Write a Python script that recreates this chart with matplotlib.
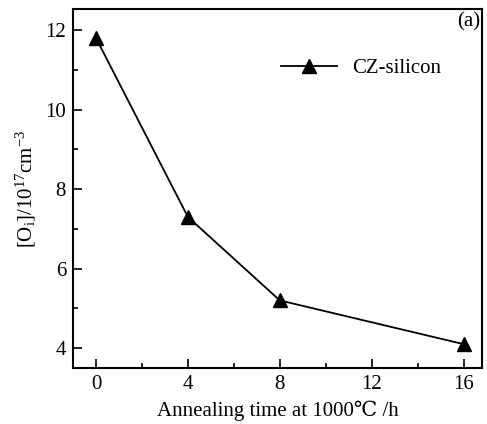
import matplotlib
matplotlib.use("Agg")
import matplotlib.pyplot as plt
from matplotlib.ticker import MultipleLocator

plt.rcParams['font.family'] = ['Liberation Serif', 'DejaVu Serif']
plt.rcParams['mathtext.fontset'] = 'custom'
plt.rcParams['mathtext.rm'] = 'Liberation Serif'
plt.rcParams['mathtext.it'] = 'Liberation Serif'

time_h = [0, 4, 8, 16]
oi_conc = [11.8, 7.3, 5.2, 4.1]
series_label = "CZ-silicon"

fig = plt.figure(figsize=(4.87, 4.24), dpi=100)
ax = fig.add_axes([73/487, 56/424, 409/487, 359/424])

ax.plot(time_h, oi_conc, color='black', lw=1.3, marker='^', ms=10,
        markerfacecolor='black', label=series_label)

ax.set_xlim(-1, 16.8)
ax.set_ylim(3.5, 12.53)
ax.xaxis.set_major_locator(MultipleLocator(4))
ax.xaxis.set_minor_locator(MultipleLocator(2))
ax.yaxis.set_major_locator(MultipleLocator(2))
ax.yaxis.set_minor_locator(MultipleLocator(1))
ax.tick_params(which='both', direction='in', labelsize=15, width=1.2)
ax.tick_params(which='major', length=6.5, pad=5)
ax.tick_params(which='minor', length=3.5)
for s in ax.spines.values():
    s.set_linewidth(1.5)

ax.set_xlabel("Annealing time at 1000\u2103 /h", fontsize=15, labelpad=5)
ax.set_ylabel(r"[O$_\mathrm{i}$]/10$^{17}$cm$^{-3}$", fontsize=15, labelpad=5)

ax.text(0.995, 0.99, "(a)", transform=ax.transAxes, ha='right', va='top', fontsize=15)
ax.legend(loc='upper right', bbox_to_anchor=(0.945, 0.915), frameon=False, fontsize=15,
          handlelength=2.7, handletextpad=0.7, markerscale=1.0)

fig.savefig("out.png", dpi=100)
